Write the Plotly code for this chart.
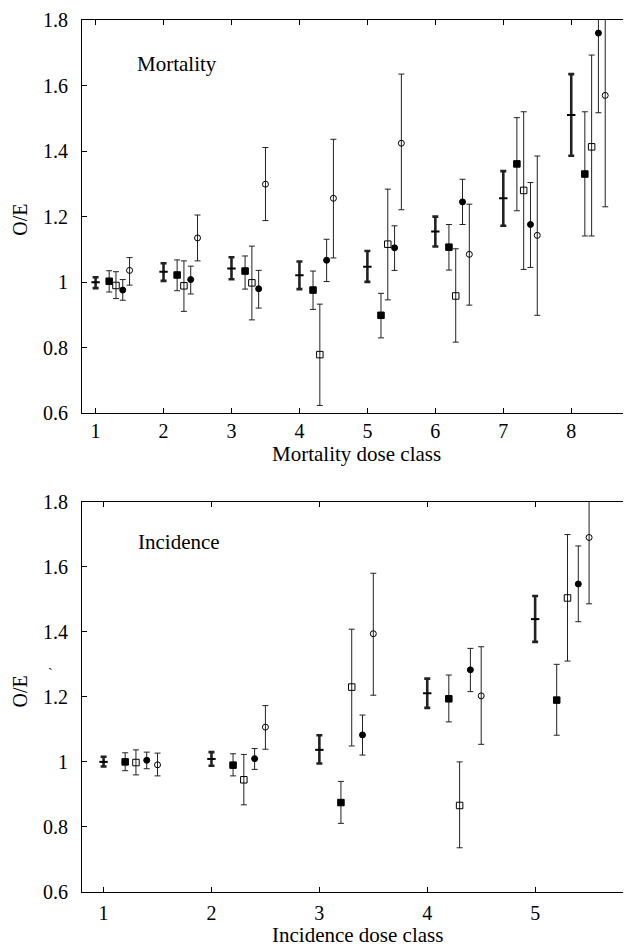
import plotly.graph_objects as go

# ---------------- data ----------------
mort_classes = [1, 2, 3, 4, 5, 6, 7, 8]
mort_pooled = [1.000, 1.032, 1.042, 1.021, 1.047, 1.155, 1.256, 1.510]
mort_pooled_hi = [1.015, 1.058, 1.076, 1.063, 1.095, 1.200, 1.339, 1.635]
mort_pooled_lo = [0.982, 1.004, 1.009, 0.979, 1.001, 1.109, 1.172, 1.386]

mort_fsq = [1.003, 1.022, 1.034, 0.976, 0.899, 1.107, 1.361, 1.330]
mort_fsq_hi = [1.035, 1.068, 1.080, 1.034, 0.966, 1.176, 1.502, 1.520]
mort_fsq_lo = [0.970, 0.974, 0.979, 0.917, 0.830, 1.037, 1.218, 1.141]

mort_osq = [0.990, 0.989, 0.998, 0.779, 1.116, 0.958, 1.280, 1.413]
mort_osq_hi = [1.032, 1.065, 1.110, 0.933, 1.284, 1.102, 1.520, 1.693]
mort_osq_lo = [0.950, 0.911, 0.885, 0.624, 0.946, 0.817, 1.039, 1.141]

mort_fci = [0.976, 1.008, 0.980, 1.067, 1.105, 1.245, 1.176, 1.760]
mort_fci_hi = [1.008, 1.049, 1.036, 1.131, 1.172, 1.314, 1.304, 1.950]
mort_fci_lo = [0.945, 0.964, 0.921, 1.002, 1.036, 1.176, 1.045, 1.517]

mort_oci = [1.036, 1.135, 1.299, 1.256, 1.424, 1.085, 1.143, 1.570]
mort_oci_hi = [1.075, 1.205, 1.411, 1.436, 1.635, 1.238, 1.385, 1.900]
mort_oci_lo = [0.991, 1.065, 1.188, 1.074, 1.221, 0.930, 0.899, 1.230]

inc_classes = [1, 2, 3, 4, 5]
inc_pooled = [1.000, 1.009, 1.037, 1.211, 1.439]
inc_pooled_hi = [1.016, 1.030, 1.082, 1.256, 1.510]
inc_pooled_lo = [0.986, 0.988, 0.995, 1.166, 1.369]

inc_fsq = [1.000, 0.990, 0.875, 1.194, 1.190]
inc_fsq_hi = [1.028, 1.025, 0.940, 1.267, 1.300]
inc_fsq_lo = [0.973, 0.957, 0.811, 1.123, 1.082]

inc_osq = [0.998, 0.945, 1.230, 0.866, 1.504]
inc_osq_hi = [1.037, 1.023, 1.408, 1.000, 1.699]
inc_osq_lo = [0.960, 0.868, 1.049, 0.736, 1.310]

inc_fci = [1.005, 1.010, 1.083, 1.283, 1.547]
inc_fci_hi = [1.030, 1.041, 1.144, 1.349, 1.664]
inc_fci_lo = [0.979, 0.977, 1.021, 1.216, 1.431]

inc_oci = [0.991, 1.107, 1.394, 1.203, 1.690]
inc_oci_hi = [1.027, 1.173, 1.580, 1.354, 1.900]
inc_oci_lo = [0.957, 1.039, 1.205, 1.054, 1.486]

y_ticks = [0.6, 0.8, 1.0, 1.2, 1.4, 1.6, 1.8]
y_tick_text = ["0.6", "0.8", "1", "1.2", "1.4", "1.6", "1.8"]

# ---------------- styles ----------------
FONT = '"Liberation Serif", "Times New Roman", serif'
styles = [
    # offset, marker symbol, marker size, error thickness
    (0.0, "line-ew", 6, 2.6),
    (0.2, "square", 6.5, 1.0),
    (0.3, "square-open", 6.5, 1.0),
    (0.4, "circle", 6, 1.0),
    (0.5, "circle-open", 6, 1.0),
]

fig = go.Figure()


def add_panel(classes, series, xa, ya):
    for (off, sym, size, thick), (c, hi, lo) in zip(styles, series):
        xs = [k + off for k in classes]
        fig.add_trace(go.Scatter(
            x=xs, y=c, mode="markers", xaxis=xa, yaxis=ya,
            showlegend=False,
            marker=dict(symbol=sym, size=size, color="black",
                        line=dict(color="black", width=2 if sym == "line-ew" else 1)),
            error_y=dict(type="data", symmetric=False,
                         array=[h - v for h, v in zip(hi, c)],
                         arrayminus=[v - l for l, v in zip(lo, c)],
                         color="#222222", thickness=thick, width=3),
            cliponaxis=True,
        ))


add_panel(mort_classes, [
    (mort_pooled, mort_pooled_hi, mort_pooled_lo),
    (mort_fsq, mort_fsq_hi, mort_fsq_lo),
    (mort_osq, mort_osq_hi, mort_osq_lo),
    (mort_fci, mort_fci_hi, mort_fci_lo),
    (mort_oci, mort_oci_hi, mort_oci_lo),
], "x", "y")

add_panel(inc_classes, [
    (inc_pooled, inc_pooled_hi, inc_pooled_lo),
    (inc_fsq, inc_fsq_hi, inc_fsq_lo),
    (inc_osq, inc_osq_hi, inc_osq_lo),
    (inc_fci, inc_fci_hi, inc_fci_lo),
    (inc_oci, inc_oci_hi, inc_oci_lo),
], "x2", "y2")

# page has an 8px body margin; figure coords = page coords - 8
OFF = 8
FW, FH = 623, 939
L, R, T, B = 74, 1, 6, 55
plot_h = FH - T - B
plot_w = FW - L - R
AX_BOTTOM = FH - B  # fig y of bottom axis of lower panel
top_dom = [(AX_BOTTOM - (410 - OFF)) / plot_h, 1.0]
bot_dom = [0.0, (AX_BOTTOM - (499 - OFF)) / plot_h]

axis_common = dict(
    showline=True, linecolor="black", linewidth=1.2, mirror="ticks",
    ticks="inside", ticklen=5, tickwidth=1, tickcolor="black",
    showgrid=False, zeroline=False,
    tickfont=dict(family=FONT, size=20, color="black"),
)

fig.update_layout(
    width=FW, height=FH,
    margin=dict(l=L, r=R, t=T, b=B),
    paper_bgcolor="white", plot_bgcolor="white",
    xaxis=dict(domain=[0, 1], anchor="y", range=[0.8, 8.85],
               tickvals=mort_classes, ticklabelstandoff=0, **axis_common),
    yaxis=dict(domain=top_dom, anchor="x", range=[0.6, 1.8],
               tickvals=y_ticks, ticktext=y_tick_text, ticklabelstandoff=9,
               **axis_common),
    xaxis2=dict(domain=[0, 1], anchor="y2", range=[0.8, 5.87],
                tickvals=inc_classes, ticklabelstandoff=3, **axis_common),
    yaxis2=dict(domain=bot_dom, anchor="x2", range=[0.6, 1.8],
                tickvals=y_ticks, ticktext=y_tick_text, ticklabelstandoff=9,
                **axis_common),
)


def px(xp):
    return (xp - OFF - L) / plot_w


def py(yp):
    return (AX_BOTTOM - (yp - OFF)) / plot_h


ann = [
    ("Mortality", 177, 58, 21, 0),
    ("Incidence", 179, 540, 21, 0),
    ("Mortality dose class", 357, 451, 21, 0),
    ("Incidence dose class", 358, 935, 21, 0),
    ("O/E", 20, 215, 20, -90),
    ("O/E", 20, 690, 20, -90),
    ("`", 50, 672, 14, 0),
]
for text, x, y, s, ang in ann:
    fig.add_annotation(text=text, xref="paper", yref="paper", x=px(x), y=py(y),
                       xanchor="center", yanchor="middle", showarrow=False,
                       textangle=ang, font=dict(family=FONT, size=s, color="black"))

fig.write_html("out.html")
